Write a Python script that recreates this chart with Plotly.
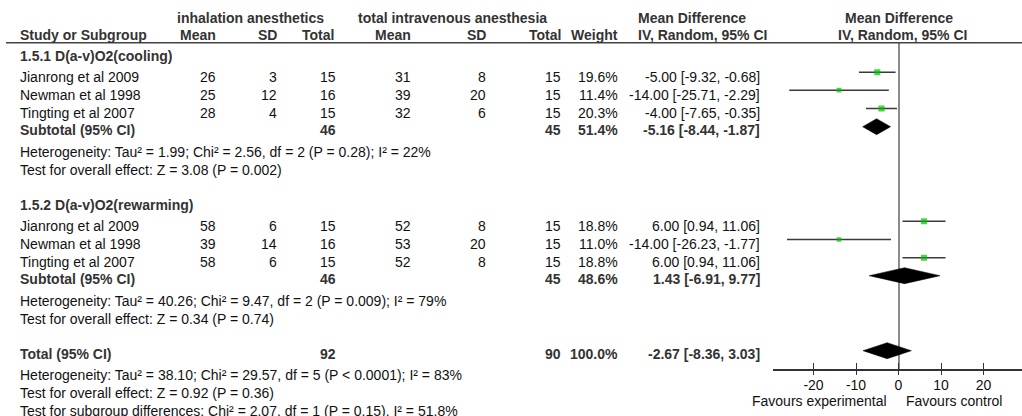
import plotly.graph_objects as go

W, H = 1022, 416

# ---------------- data ----------------
studies = ["Jianrong et al 2009", "Newman et al 1998", "Tingting et al 2007"]

g1_title = "1.5.1 D(a-v)O2(cooling)"
g1_exp_mean = [26, 25, 28]
g1_exp_sd = [3, 12, 4]
g1_exp_n = [15, 16, 15]
g1_ctl_mean = [31, 39, 32]
g1_ctl_sd = [8, 20, 6]
g1_ctl_n = [15, 15, 15]
g1_weight = [19.6, 11.4, 20.3]
g1_md = [-5.00, -14.00, -4.00]
g1_lo = [-9.32, -25.71, -7.65]
g1_hi = [-0.68, -2.29, -0.35]
g1_sub_n = [46, 45]
g1_sub_weight = 51.4
g1_sub_ci = [-5.16, -8.44, -1.87]
g1_het = "Heterogeneity: Tau² = 1.99; Chi² = 2.56, df = 2 (P = 0.28); I² = 22%"
g1_test = "Test for overall effect: Z = 3.08 (P = 0.002)"

g2_title = "1.5.2 D(a-v)O2(rewarming)"
g2_exp_mean = [58, 39, 58]
g2_exp_sd = [6, 14, 6]
g2_exp_n = [15, 16, 15]
g2_ctl_mean = [52, 53, 52]
g2_ctl_sd = [8, 20, 8]
g2_ctl_n = [15, 15, 15]
g2_weight = [18.8, 11.0, 18.8]
g2_md = [6.00, -14.00, 6.00]
g2_lo = [0.94, -26.23, 0.94]
g2_hi = [11.06, -1.77, 11.06]
g2_sub_n = [46, 45]
g2_sub_weight = 48.6
g2_sub_ci = [1.43, -6.91, 9.77]
g2_het = "Heterogeneity: Tau² = 40.26; Chi² = 9.47, df = 2 (P = 0.009); I² = 79%"
g2_test = "Test for overall effect: Z = 0.34 (P = 0.74)"

tot_n = [92, 90]
tot_weight = 100.0
tot_ci = [-2.67, -8.36, 3.03]
tot_het = "Heterogeneity: Tau² = 38.10; Chi² = 29.57, df = 5 (P < 0.0001); I² = 83%"
tot_test = "Test for overall effect: Z = 0.92 (P = 0.36)"
subgroup_test = "Test for subgroup differences: Chi² = 2.07, df = 1 (P = 0.15), I² = 51.8%"

tick_vals = [-20, -10, 0, 10, 20]
favours_left = "Favours experimental"
favours_right = "Favours control"

# ---------------- layout constants ----------------
FONT = "Liberation Sans, Arial, Helvetica, sans-serif"
FS = 14
C_REG = "#111111"
C_BOLD = "#333333"
GREEN = "#00c000"

AX_LEFT_PX = 773.3
ZERO_PX = 898.5
PX_PER_UNIT = 4.25
AXIS_Y_PX = 369.0
HEAD_LINE_PX = 42.7

# column x (pixels)
X_STUDY = 19
X_EMEAN, X_ESD, X_ETOT = 217, 277.5, 337
X_CMEAN, X_CSD, X_CTOT = 411.5, 487, 562
X_WEIGHT = 619
X_CI = 761
X_CI_HEAD = 637
X_FOREST_HEAD = 899

# row y (pixels, text centres)
Y_H1, Y_H2 = 18.3, 35.0
g1_rows = dict(head=55.5, studies=[76.7, 94.7, 113.0], sub=130.0, het=151.7, test=170.0)
g2_rows = dict(head=205.0, studies=[225.7, 244.0, 262.3], sub=279.0, het=300.7, test=319.0)
Y_TOT, Y_TOT_HET, Y_TOT_TEST, Y_SUB_TEST = 354.0, 375.0, 393.3, 411.0
Y_FAV = 400.7
MARK_OFF = -4.5
DIA_OFF = -3.3
DIA_HALF = 8.0

annotations = []


def txt(x_px, y_px, text, anchor="right", bold=False):
    annotations.append(dict(
        x=x_px / W, xref="paper", y=1 - y_px / H, yref="paper",
        text=f"<b>{text}</b>" if bold else text,
        xanchor=anchor, yanchor="middle", showarrow=False,
        font=dict(family=FONT, size=FS, color=C_BOLD if bold else C_REG),
        borderpad=0,
    ))


def ci_str(m, lo, hi):
    return f"{m:.2f} [{lo:.2f}, {hi:.2f}]"


# headers
txt(176, Y_H1, "inhalation anesthetics", "left", True)
txt(357, Y_H1, "total intravenous anesthesia", "left", True)
txt(X_CI_HEAD, Y_H1, "Mean Difference", "left", True)
txt(X_FOREST_HEAD, Y_H1, "Mean Difference", "center", True)
txt(X_STUDY, Y_H2, "Study or Subgroup", "left", True)
txt(X_EMEAN, Y_H2, "Mean", "right", True)
txt(X_ESD, Y_H2, "SD", "right", True)
txt(X_ETOT - 2, Y_H2, "Total", "right", True)
txt(X_CMEAN, Y_H2, "Mean", "right", True)
txt(X_CSD, Y_H2, "SD", "right", True)
txt(X_CTOT, Y_H2, "Total", "right", True)
txt(X_WEIGHT, Y_H2, "Weight", "right", True)
txt(X_CI_HEAD, Y_H2, "IV, Random, 95% CI", "left", True)
txt(X_FOREST_HEAD + 3, Y_H2, "IV, Random, 95% CI", "center", True)

fig = go.Figure()


def diamond(ci, yc):
    m, lo, hi = ci
    fig.add_trace(go.Scatter(
        x=[lo, m, hi, m, lo], y=[yc, yc - DIA_HALF, yc, yc + DIA_HALF, yc],
        mode="lines", fill="toself", fillcolor="black",
        line=dict(color="black", width=0.5), hoverinfo="skip", cliponaxis=False))


def group(title, rows, em, esd, en, cm, csd, cn, w, md, lo, hi, subn, subw, subci, het, test):
    txt(X_STUDY, rows["head"], title, "left", True)
    for i, s in enumerate(studies):
        y = rows["studies"][i]
        txt(X_STUDY, y, s, "left")
        txt(X_EMEAN, y, str(em[i]))
        txt(X_ESD, y, str(esd[i]))
        txt(X_ETOT, y, str(en[i]))
        txt(X_CMEAN, y, str(cm[i]))
        txt(X_CSD, y, str(csd[i]))
        txt(X_CTOT, y, str(cn[i]))
        txt(X_WEIGHT, y, f"{w[i]:.1f}%")
        txt(X_CI, y, ci_str(md[i], lo[i], hi[i]))
    ys = [y + MARK_OFF for y in rows["studies"]]
    lx, ly = [], []
    for i in range(len(md)):
        lx += [lo[i], hi[i], None]
        ly += [ys[i], ys[i], None]
    fig.add_trace(go.Scatter(x=lx, y=ly, mode="lines",
                             line=dict(color="#3a3a3a", width=1.6), hoverinfo="skip"))
    fig.add_trace(go.Scatter(x=md, y=ys, mode="markers",
                             marker=dict(symbol="square", color=GREEN,
                                         size=[1.38 * v ** 0.5 for v in w], line=dict(width=0)),
                             hoverinfo="skip"))
    ys_ = rows["sub"]
    txt(X_STUDY, ys_, "Subtotal (95% CI)", "left", True)
    txt(X_ETOT, ys_, str(subn[0]), "right", True)
    txt(X_CTOT, ys_, str(subn[1]), "right", True)
    txt(X_WEIGHT, ys_, f"{subw:.1f}%", "right", True)
    txt(X_CI, ys_, ci_str(*subci), "right", True)
    diamond(subci, ys_ + DIA_OFF)
    txt(X_STUDY, rows["het"], het, "left")
    txt(X_STUDY, rows["test"], test, "left")


group(g1_title, g1_rows, g1_exp_mean, g1_exp_sd, g1_exp_n, g1_ctl_mean, g1_ctl_sd, g1_ctl_n,
      g1_weight, g1_md, g1_lo, g1_hi, g1_sub_n, g1_sub_weight, g1_sub_ci, g1_het, g1_test)
group(g2_title, g2_rows, g2_exp_mean, g2_exp_sd, g2_exp_n, g2_ctl_mean, g2_ctl_sd, g2_ctl_n,
      g2_weight, g2_md, g2_lo, g2_hi, g2_sub_n, g2_sub_weight, g2_sub_ci, g2_het, g2_test)

# total
txt(X_STUDY, Y_TOT, "Total (95% CI)", "left", True)
txt(X_ETOT, Y_TOT, str(tot_n[0]), "right", True)
txt(X_CTOT, Y_TOT, str(tot_n[1]), "right", True)
txt(X_WEIGHT, Y_TOT, f"{tot_weight:.1f}%", "right", True)
txt(X_CI, Y_TOT, ci_str(*tot_ci), "right", True)
diamond(tot_ci, Y_TOT + DIA_OFF)
txt(X_STUDY, Y_TOT_HET, tot_het, "left")
txt(X_STUDY, Y_TOT_TEST, tot_test, "left")
txt(X_STUDY, Y_SUB_TEST, subgroup_test, "left")

# favours labels
txt(888, Y_FAV, favours_left, "right")
txt(905, Y_FAV, favours_right, "left")

# second x-axis for the inner half of the crossing ticks
fig.add_trace(go.Scatter(x=[0], y=[AXIS_Y_PX], xaxis="x2", yaxis="y",
                         mode="markers", marker=dict(opacity=0), hoverinfo="skip"))

x_range = [(AX_LEFT_PX - ZERO_PX) / PX_PER_UNIT, (W - ZERO_PX) / PX_PER_UNIT]
x_dom = [AX_LEFT_PX / W, 1.0]
y_dom = [(H - AXIS_Y_PX) / H, (H - HEAD_LINE_PX) / H]

fig.update_layout(
    width=W, height=H, margin=dict(l=0, r=0, t=0, b=0, pad=0),
    paper_bgcolor="white", plot_bgcolor="white", showlegend=False,
    annotations=annotations,
    xaxis=dict(domain=x_dom, range=x_range, showgrid=False, zeroline=True,
               zerolinecolor="#8c8c8c", zerolinewidth=1.6,
               showline=True, linecolor="#333333", linewidth=1.6,
               ticks="outside", ticklen=4, tickwidth=1.4, tickcolor="#333333",
               tickvals=tick_vals, ticktext=[str(v) for v in tick_vals],
               tickfont=dict(family=FONT, size=FS, color=C_REG),
               ticklabelstandoff=-2,
               anchor="y", fixedrange=True),
    xaxis2=dict(domain=x_dom, range=x_range, overlaying="x", matches="x", anchor="y",
                showgrid=False, zeroline=False, showline=False,
                ticks="inside", ticklen=6, tickwidth=1.4, tickcolor="#333333",
                tickvals=tick_vals, showticklabels=False, side="bottom"),
    yaxis=dict(domain=y_dom, range=[AXIS_Y_PX, HEAD_LINE_PX], visible=False, fixedrange=True),
    shapes=[dict(type="line", xref="paper", yref="paper", x0=6 / W, x1=1.0,
                 y0=y_dom[1], y1=y_dom[1], line=dict(color="#444444", width=1.5))],
)

fig.write_html("out.html", config={"displayModeBar": False},
               post_script="document.body.style.margin='0';document.body.style.overflow='hidden';")
